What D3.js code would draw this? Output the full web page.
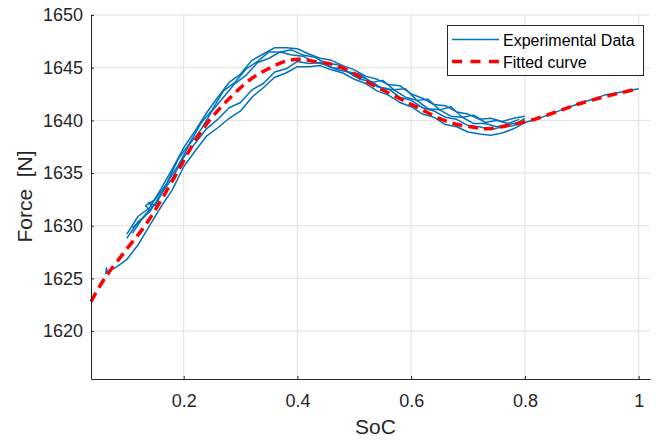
<!DOCTYPE html>
<html>
<head>
<meta charset="utf-8">
<script src="https://cdn.jsdelivr.net/npm/d3@7"></script>
<style>
  body { margin: 0; background: #fff; }
  svg { display: block; font-family: Arial, "Liberation Sans", sans-serif; }
</style>
</head>
<body>
<div id="chart"></div>
<script>
// ticks
const xTicks = [0.2, 0.4, 0.6, 0.8, 1];
const yTicks = [1620, 1625, 1630, 1635, 1640, 1645, 1650];

// fitted curve (SoC, Force)
const fitSoc = [0.037, 0.061, 0.100, 0.132, 0.160, 0.188, 0.215, 0.238, 0.261, 0.290, 0.320, 0.349, 0.378, 0.402, 0.431, 0.463, 0.498, 0.528, 0.557, 0.586, 0.616, 0.645, 0.674, 0.704, 0.733, 0.768, 0.803, 0.839, 0.870, 0.897, 0.930, 0.967, 1.000];
const fitForce = [1622.8, 1625.0, 1627.8, 1630.0, 1632.4, 1635.0, 1637.6, 1639.5, 1641.0, 1642.6, 1644.0, 1644.9, 1645.6, 1645.8, 1645.6, 1645.3, 1644.5, 1643.5, 1642.7, 1641.9, 1641.1, 1640.3, 1639.7, 1639.4, 1639.2, 1639.5, 1639.9, 1640.5, 1641.1, 1641.6, 1642.1, 1642.6, 1643.0];

// experimental traces
const run1Soc = [0.063, 0.064, 0.066, 0.070, 0.076, 0.082, 0.090, 0.10, 0.12, 0.14, 0.16, 0.18, 0.20, 0.22, 0.24, 0.26, 0.28, 0.30, 0.32, 0.34, 0.36, 0.38, 0.40, 0.42, 0.44, 0.46, 0.48, 0.50, 0.52, 0.54, 0.56, 0.58, 0.60, 0.62, 0.64, 0.66, 0.68, 0.70, 0.72, 0.74, 0.76, 0.78, 0.80, 0.82, 0.84, 0.86, 0.88, 0.90, 0.92, 0.94, 0.96, 0.98, 1.00];
const run1Force = [1625.4, 1626.0, 1625.6, 1625.7, 1625.9, 1626.1, 1626.4, 1626.8, 1628.2, 1630.0, 1631.8, 1633.4, 1635.6, 1637.1, 1638.5, 1639.3, 1640.2, 1640.9, 1642.2, 1643.1, 1644.1, 1644.5, 1645.1, 1645.1, 1645.2, 1644.8, 1644.5, 1643.9, 1643.5, 1642.8, 1642.4, 1641.7, 1641.3, 1640.6, 1640.3, 1639.6, 1639.4, 1638.9, 1638.7, 1638.6, 1638.8, 1639.2, 1639.8, 1640.1, 1640.5, 1640.9, 1641.3, 1641.7, 1642.0, 1642.4, 1642.6, 1642.8, 1643.0];

const run2Soc = [0.10, 0.12, 0.14, 0.16, 0.18, 0.20, 0.22, 0.24, 0.26, 0.28, 0.30, 0.32, 0.34, 0.36, 0.38, 0.40, 0.42, 0.44, 0.46, 0.48, 0.50, 0.52, 0.54, 0.56, 0.58, 0.60, 0.62, 0.64, 0.66, 0.68, 0.70, 0.72, 0.74, 0.76, 0.78, 0.80];
const run2Force = [1628.8, 1630.4, 1631.3, 1633.0, 1634.5, 1636.5, 1637.8, 1639.2, 1640.1, 1641.2, 1641.7, 1642.9, 1643.5, 1644.6, 1644.9, 1645.6, 1645.4, 1645.5, 1645.0, 1644.9, 1644.2, 1644.0, 1643.2, 1643.0, 1642.2, 1641.9, 1641.2, 1640.9, 1640.3, 1640.1, 1639.5, 1639.4, 1639.1, 1639.4, 1639.5, 1640.2];

const run3Soc = [0.11, 0.13, 0.145, 0.138, 0.15, 0.17, 0.19, 0.21, 0.23, 0.25, 0.27, 0.29, 0.31, 0.33, 0.35, 0.37, 0.39, 0.41, 0.43, 0.45, 0.47, 0.49, 0.51, 0.53, 0.55, 0.57, 0.59, 0.61, 0.63, 0.65, 0.67, 0.69, 0.71, 0.73, 0.75, 0.77, 0.79];
const run3Force = [1629.3, 1630.9, 1631.8, 1632.2, 1631.9, 1634.0, 1635.7, 1637.7, 1639.1, 1640.9, 1642.2, 1643.5, 1644.3, 1645.5, 1645.9, 1646.5, 1646.2, 1646.1, 1645.5, 1645.3, 1644.8, 1644.6, 1643.9, 1643.7, 1643.0, 1642.9, 1642.2, 1641.9, 1641.1, 1641.0, 1640.4, 1640.3, 1639.7, 1639.7, 1639.4, 1639.6, 1639.8];

const run4Soc = [0.10, 0.12, 0.14, 0.16, 0.18, 0.20, 0.22, 0.24, 0.26, 0.28, 0.30, 0.32, 0.34, 0.36, 0.38, 0.40, 0.42, 0.44, 0.46, 0.48, 0.50, 0.52, 0.54, 0.56, 0.58, 0.60, 0.62, 0.64, 0.66, 0.68, 0.70, 0.72, 0.74, 0.76, 0.78, 0.80];
const run4Force = [1629.2, 1630.9, 1631.7, 1633.5, 1635.4, 1637.4, 1639.0, 1640.7, 1642.2, 1643.6, 1644.4, 1645.7, 1646.3, 1646.9, 1646.9, 1646.8, 1646.3, 1645.9, 1645.7, 1645.2, 1644.8, 1644.2, 1643.9, 1643.4, 1643.3, 1642.5, 1642.1, 1641.5, 1641.4, 1640.8, 1640.6, 1640.1, 1640.2, 1639.9, 1640.2, 1640.4];

const run5Soc = [0.11, 0.13, 0.14, 0.133, 0.15, 0.17, 0.19, 0.21, 0.23, 0.25, 0.27, 0.29, 0.31, 0.33, 0.35, 0.37, 0.39, 0.41, 0.43, 0.45, 0.47, 0.49, 0.51, 0.53, 0.55, 0.57, 0.59, 0.61, 0.63, 0.65, 0.67, 0.69, 0.71, 0.73, 0.75, 0.77, 0.79];
const run5Force = [1629.8, 1630.8, 1631.5, 1631.9, 1632.5, 1634.0, 1636.3, 1637.8, 1639.7, 1641.0, 1642.8, 1643.6, 1644.9, 1645.6, 1646.5, 1646.5, 1646.7, 1646.2, 1646.0, 1645.4, 1645.3, 1644.6, 1644.4, 1643.6, 1643.8, 1642.9, 1643.0, 1641.9, 1642.0, 1641.0, 1641.3, 1640.3, 1640.5, 1639.8, 1640.0, 1639.7, 1640.1];

const runs = [
    [run1Soc, run1Force],
    [run2Soc, run2Force],
    [run3Soc, run3Force],
    [run4Soc, run4Force],
    [run5Soc, run5Force]
];

function createChart() {
    const W = 662, H = 443;
    const plot = { left: 91, right: 650, top: 14, bottom: 379 };
    const axisColor = "#262626";

    const svg = d3.select("#chart").append("svg")
        .attr("width", W)
        .attr("height", H);

    const x = d3.scaleLinear().domain([0.037, 1.02]).range([plot.left, plot.right]);
    const y = d3.scaleLinear().domain([1615.45, 1650.1]).range([plot.bottom, plot.top]);

    // grid
    svg.append("g").selectAll("line.vgrid")
        .data(xTicks).enter().append("line")
        .attr("x1", d => x(d)).attr("x2", d => x(d))
        .attr("y1", plot.top).attr("y2", plot.bottom)
        .attr("stroke", "#e1e1e1").attr("stroke-width", 1);
    svg.append("g").selectAll("line.hgrid")
        .data(yTicks).enter().append("line")
        .attr("x1", plot.left).attr("x2", plot.right)
        .attr("y1", d => y(d)).attr("y2", d => y(d))
        .attr("stroke", "#e1e1e1").attr("stroke-width", 1);

    // experimental data
    const line = d3.line()
        .x(d => x(d[0]))
        .y(d => y(d[1]));

    runs.forEach(r => {
        const pts = r[0].map((s, i) => [s, r[1][i]]);
        svg.append("path")
            .datum(pts)
            .attr("d", line)
            .attr("fill", "none")
            .attr("stroke", "#0072BD")
            .attr("stroke-width", 1.5)
            .attr("stroke-linejoin", "round");
    });

    // fitted curve
    const fitPts = fitSoc.map((s, i) => [s, fitForce[i]]);
    svg.append("path")
        .datum(fitPts)
        .attr("d", line.curve(d3.curveCatmullRom))
        .attr("fill", "none")
        .attr("stroke", "#ff0000")
        .attr("stroke-width", 3.5)
        .attr("stroke-dasharray", "10,6");

    // axes
    const xAxis = d3.axisBottom(x)
        .tickValues(xTicks)
        .tickSize(-3)
        .tickSizeOuter(0)
        .tickPadding(15)
        .tickFormat(d => String(d));
    const yAxis = d3.axisLeft(y)
        .tickValues(yTicks)
        .tickSize(-3)
        .tickSizeOuter(0)
        .tickPadding(8)
        .tickFormat(d => String(d));

    const gx = svg.append("g")
        .attr("transform", `translate(0, ${plot.bottom})`)
        .call(xAxis);
    const gy = svg.append("g")
        .attr("transform", `translate(${plot.left}, 0)`)
        .call(yAxis);

    [gx, gy].forEach(g => {
        g.select(".domain").attr("stroke", axisColor).attr("stroke-width", 1);
        g.selectAll(".tick line").attr("stroke", axisColor);
        g.selectAll(".tick text")
            .attr("fill", axisColor)
            .style("font-size", "18px")
            .style("font-family", "Arial, 'Liberation Sans', sans-serif");
    });

    // axis titles
    svg.append("text")
        .attr("x", (plot.left + plot.right) / 2 + 5)
        .attr("y", 434)
        .attr("text-anchor", "middle")
        .attr("fill", axisColor)
        .style("font-size", "21px")
        .text("SoC");

    svg.append("text")
        .attr("transform", `translate(32, ${(plot.top + plot.bottom) / 2}) rotate(-90)`)
        .attr("text-anchor", "middle")
        .attr("fill", axisColor)
        .style("font-size", "21px")
        .style("white-space", "pre")
        .attr("xml:space", "preserve")
        .text("Force  [N]");

    // legend
    const legend = svg.append("g").attr("class", "legend");
    legend.append("rect")
        .attr("x", 447.5).attr("y", 25.5)
        .attr("width", 196).attr("height", 50)
        .attr("fill", "#fff")
        .attr("stroke", axisColor)
        .attr("stroke-width", 1);

    const items = [
        { label: "Experimental Data", color: "#0072BD", width: 1.3, dash: null, y: 39.5 },
        { label: "Fitted curve", color: "#ff0000", width: 3.5, dash: "10,8.5", y: 61.5 }
    ];
    items.forEach(it => {
        legend.append("line")
            .attr("x1", 452).attr("x2", 499)
            .attr("y1", it.y).attr("y2", it.y)
            .attr("stroke", it.color)
            .attr("stroke-width", it.width)
            .attr("stroke-dasharray", it.dash);
        legend.append("text")
            .attr("x", 503)
            .attr("y", it.y + 6)
            .attr("fill", "#000")
            .style("font-size", "16px")
            .text(it.label);
    });
}

createChart();
</script>
</body>
</html>
